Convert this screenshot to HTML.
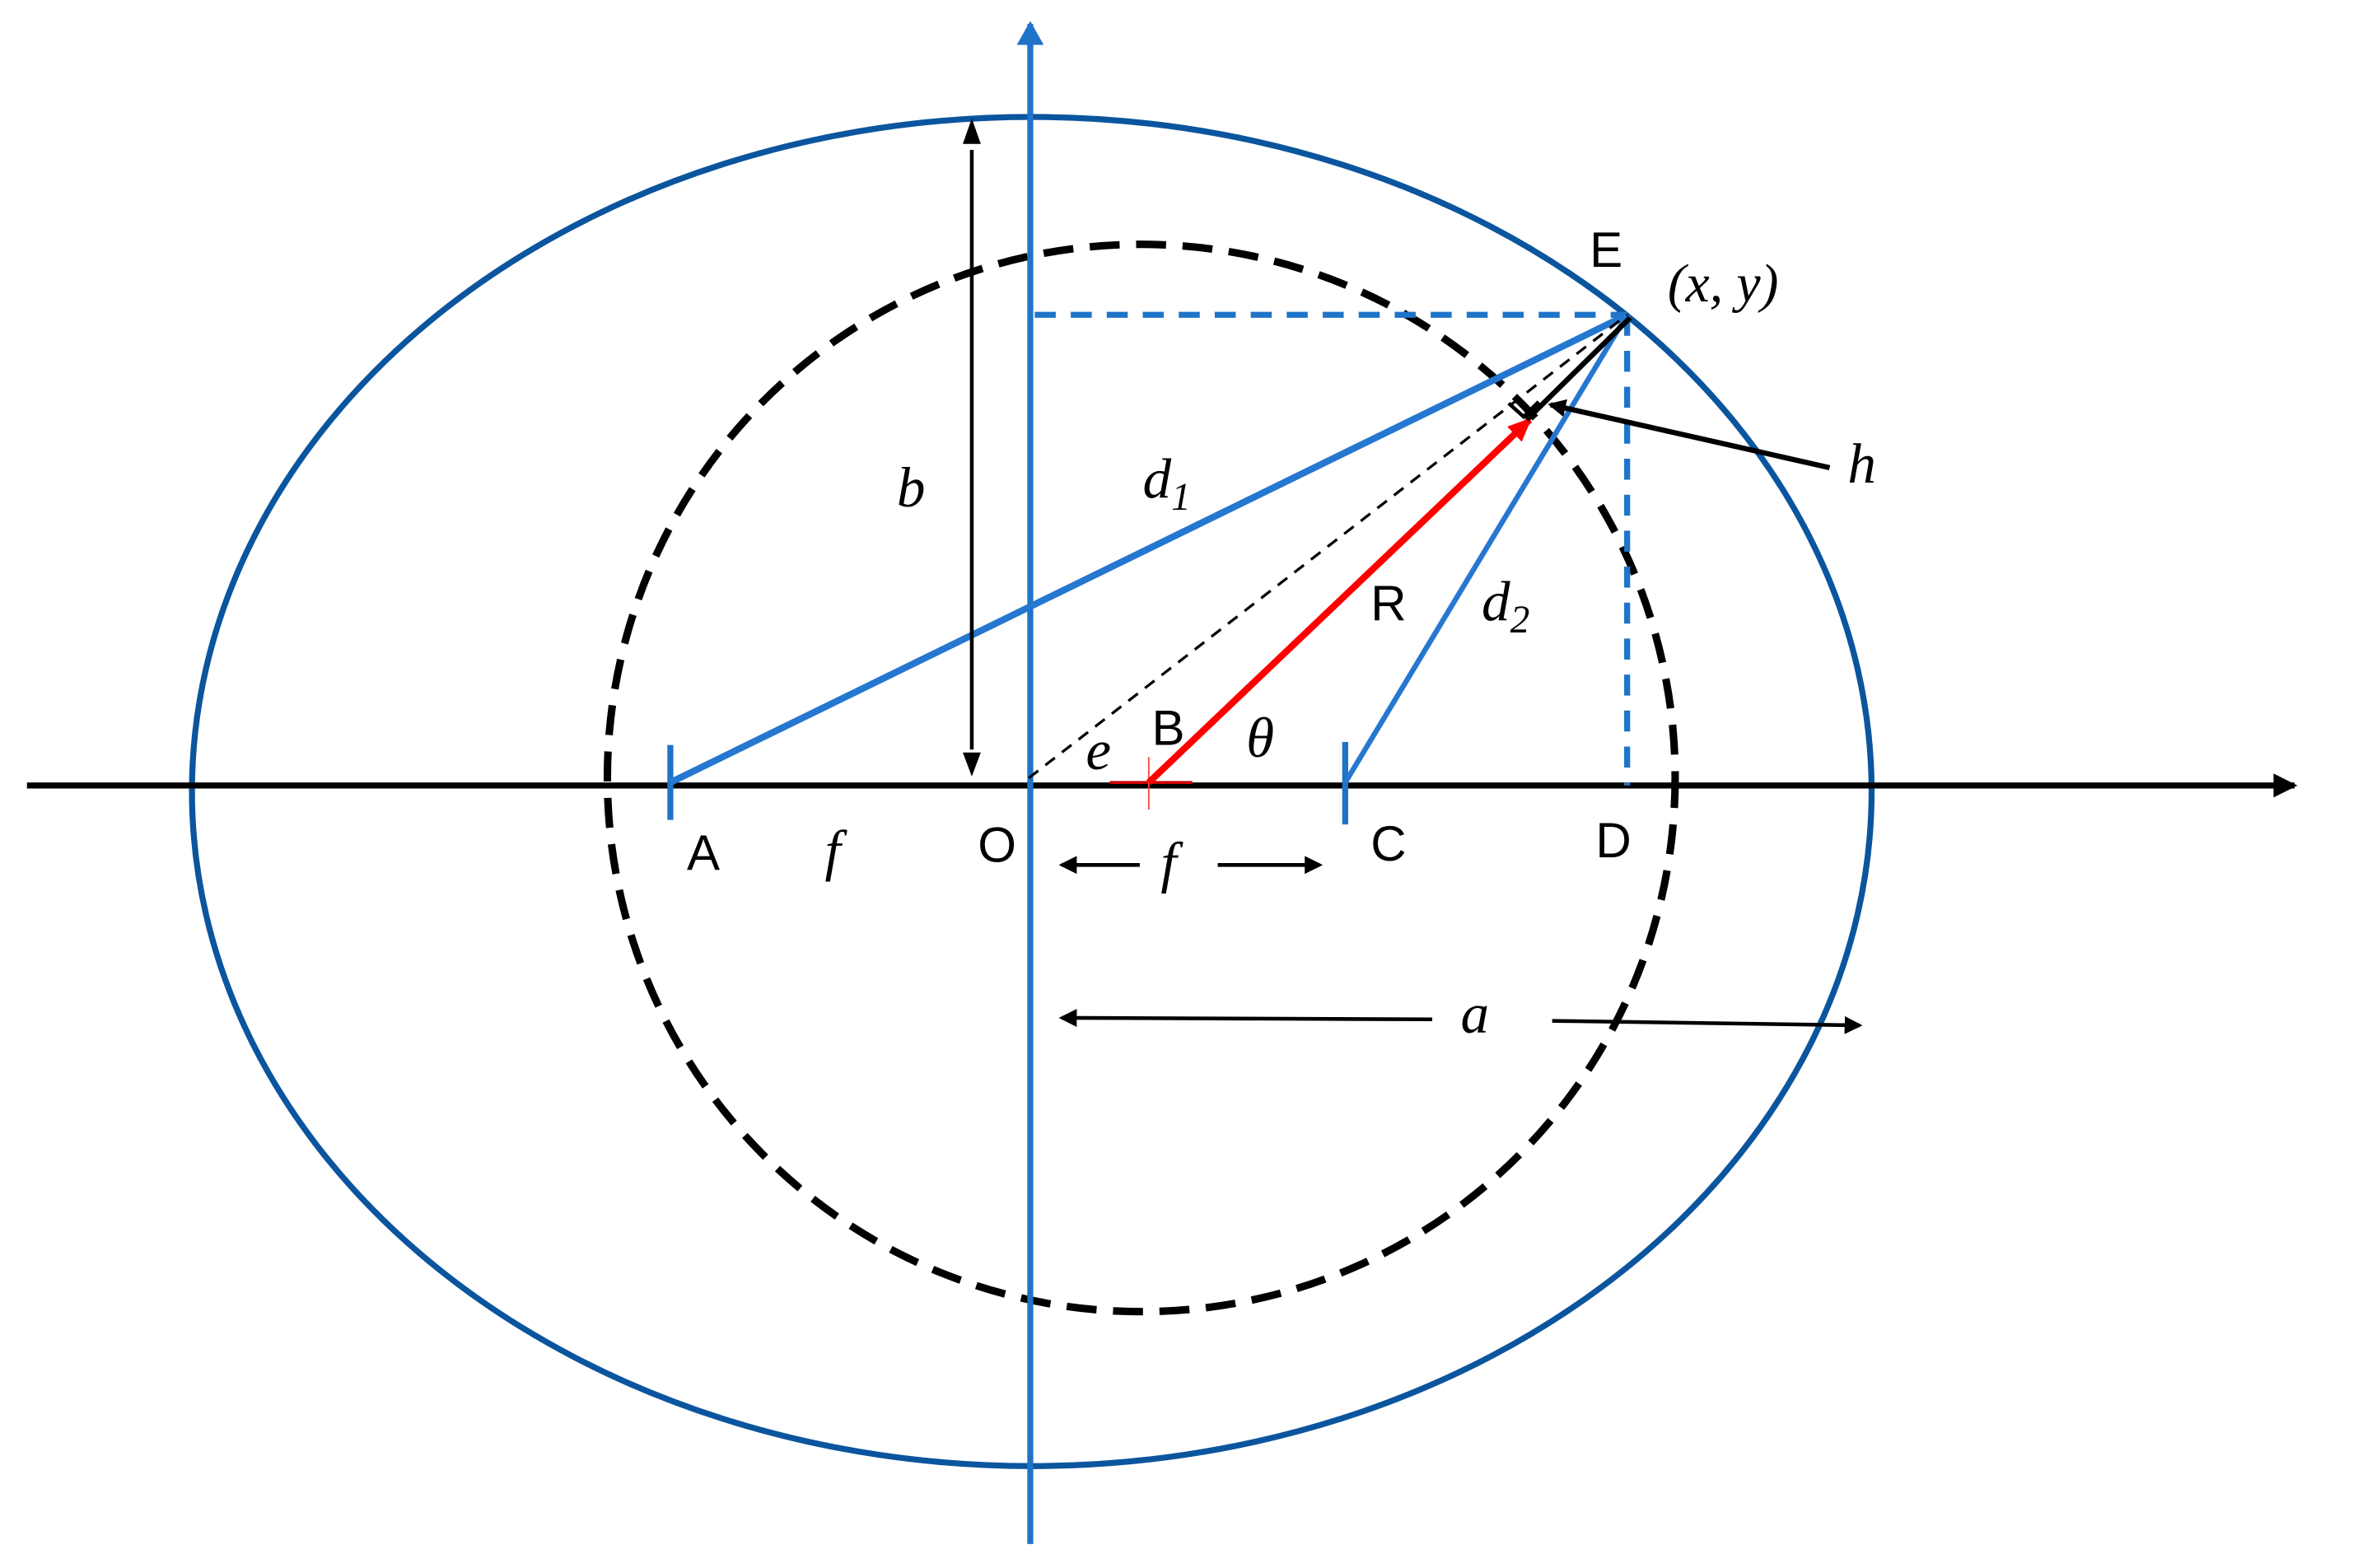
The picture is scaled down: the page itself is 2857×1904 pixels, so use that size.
<!DOCTYPE html>
<html><head><meta charset="utf-8"><style>
html,body{margin:0;padding:0;background:#fff;}
svg{display:block;}
.s{font-family:"Liberation Sans Narrow","Liberation Sans",sans-serif;font-size:33px;fill:#000;}
.i{font-family:"Liberation Serif",serif;font-style:italic;font-size:38px;fill:#000;}
</style></head><body>
<svg width="2857" height="1904" viewBox="0 0 1569 1046" preserveAspectRatio="none" xmlns="http://www.w3.org/2000/svg">
<defs>
<marker id="ab" markerWidth="12" markerHeight="12" refX="10" refY="6" orient="auto" markerUnits="userSpaceOnUse"><path d="M0,0 L12,6 L0,12 z" fill="#000"/></marker>
<marker id="abig" markerWidth="16" markerHeight="16" refX="14" refY="8" orient="auto" markerUnits="userSpaceOnUse"><path d="M0,0 L16,8 L0,16 z" fill="#000"/></marker>
<marker id="ablue" markerWidth="16" markerHeight="18" refX="14" refY="9" orient="auto" markerUnits="userSpaceOnUse"><path d="M0,0 L16,9 L0,18 z" fill="#1f73c9"/></marker>
<marker id="ared" markerWidth="16" markerHeight="14" refX="14" refY="7" orient="auto" markerUnits="userSpaceOnUse"><path d="M0,0 L16,7 L0,14 z" fill="#f00"/></marker>
</defs>
<ellipse cx="688" cy="528" rx="560" ry="450" fill="none" stroke="#0b559e" stroke-width="4"/>
<ellipse cx="761" cy="519" rx="356" ry="356" fill="none" stroke="#000" stroke-width="5" stroke-dasharray="20 11"/>
<line x1="18" y1="524" x2="1530" y2="524" stroke="#000" stroke-width="4" marker-end="url(#abig)"/>
<line x1="687" y1="1030" x2="687" y2="16" stroke="#1f73c9" stroke-width="4" marker-end="url(#ablue)"/>
<line x1="690" y1="210" x2="1085" y2="210" stroke="#1f73c9" stroke-width="4" stroke-dasharray="14 10"/>
<line x1="1085" y1="210" x2="1085" y2="524" stroke="#1f73c9" stroke-width="4" stroke-dasharray="14 10"/>
<line x1="447" y1="497" x2="447" y2="547" stroke="#1f73c9" stroke-width="4"/>
<line x1="897" y1="495" x2="897" y2="550" stroke="#1f73c9" stroke-width="4"/>
<line x1="447" y1="522" x2="1085" y2="210" stroke="#2577d0" stroke-width="4.5"/>
<line x1="897" y1="522" x2="1085" y2="210" stroke="#2577d0" stroke-width="3.5"/>
<line x1="686" y1="519" x2="1085" y2="210" stroke="#000" stroke-width="1.8" stroke-dasharray="8 6"/>
<line x1="740" y1="522" x2="795" y2="522" stroke="#c00" stroke-width="2"/>
<line x1="766" y1="505" x2="766" y2="540" stroke="#f44" stroke-width="1"/>
<line x1="766" y1="522" x2="1020" y2="280" stroke="#f00" stroke-width="4.5" marker-end="url(#ared)"/>
<line x1="1087" y1="212" x2="1018" y2="280" stroke="#000" stroke-width="3.5"/>
<path d="M1006,269 L1016,278 L1026,268" fill="none" stroke="#000" stroke-width="2.5"/>
<line x1="1220" y1="312" x2="1034" y2="270" stroke="#000" stroke-width="3.5" marker-end="url(#ab)"/>
<line x1="648" y1="500" x2="648" y2="100" stroke="#000" stroke-width="2.5"/>
<path d="M642,96 L648,79 L654,96 z" fill="#000"/>
<path d="M642,502 L648,518 L654,502 z" fill="#000"/>
<line x1="760" y1="577" x2="708" y2="577" stroke="#000" stroke-width="2.5" marker-end="url(#ab)"/>
<line x1="812" y1="577" x2="880" y2="577" stroke="#000" stroke-width="2.5" marker-end="url(#ab)"/>
<line x1="955" y1="680" x2="708" y2="679" stroke="#000" stroke-width="2.5" marker-end="url(#ab)"/>
<line x1="1035" y1="681" x2="1240" y2="684" stroke="#000" stroke-width="2.5" marker-end="url(#ab)"/>
<text class="s" x="1060" y="178">E</text>
<text class="i" x="1112" y="201" style="font-size:36px">(x, y)</text>
<text class="i" x="1232" y="322">h</text>
<text class="i" x="762" y="332">d<tspan font-size="26" dy="8">1</tspan></text>
<text class="s" x="914" y="414">R</text>
<text class="i" x="988" y="414">d<tspan font-size="26" dy="8">2</tspan></text>
<text class="i" x="598" y="338">b</text>
<text class="s" x="768" y="497">B</text>
<text class="i" x="831" y="505">θ</text>
<text class="i" x="724" y="513">e</text>
<text class="s" x="458" y="580">A</text>
<text class="i" x="550" y="580">f</text>
<text class="s" x="652" y="575">O</text>
<text class="i" x="774" y="588">f</text>
<text class="s" x="914" y="574">C</text>
<text class="s" x="1064" y="572">D</text>
<text class="i" x="974" y="689">a</text>
</svg>
</body></html>
